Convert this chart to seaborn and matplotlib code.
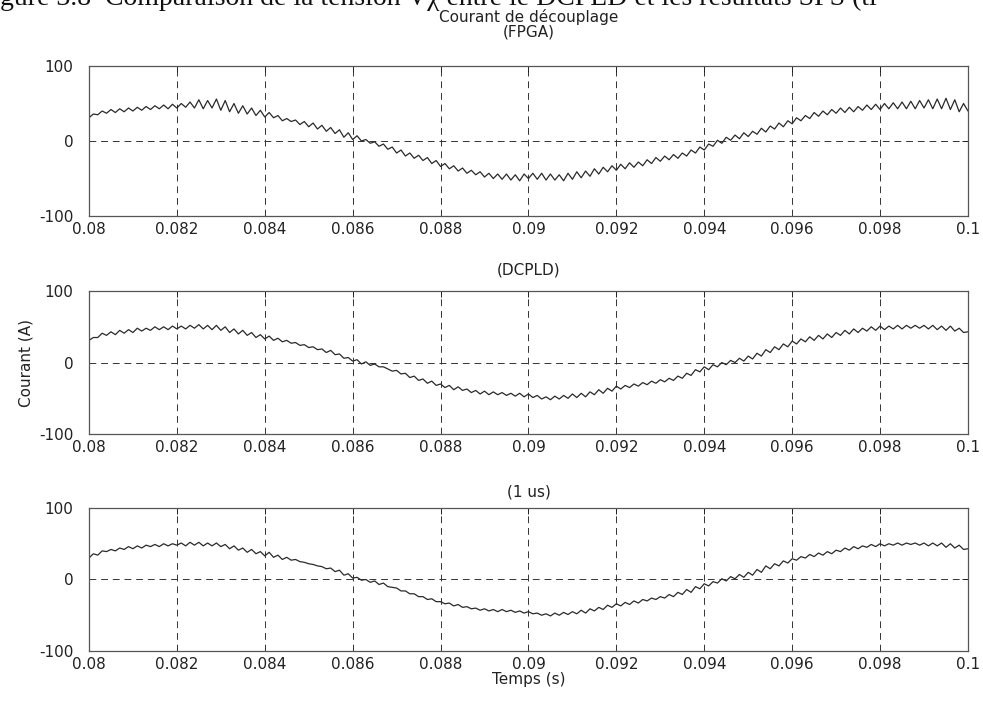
import numpy as np
import pandas as pd
import matplotlib
matplotlib.use("Agg")
import matplotlib.pyplot as plt
import seaborn as sns

# Time axis (s): one sample every 0.1 ms from 0.08 s to 0.1 s
t_start = 0.08
t_step = 0.0001

# Decoupling current (A) for the three implementations
courant_fpga = [
    31, 36, 35, 40, 37, 42, 38, 43, 39, 44, 40, 45, 41, 46, 42, 47, 43, 48, 43, 49,
    44, 50, 45, 52, 44, 55, 43, 54, 44, 56, 41, 54, 39, 50, 37, 47, 36, 44, 34, 41,
    32, 38, 31, 34, 27, 30, 26, 28, 22, 26, 19, 24, 16, 21, 13, 18, 10, 15, 5, 11,
    2, 7, 0, 2, -3, -1, -7, -4, -11, -8, -16, -12, -20, -16, -23, -19, -26, -22, -30, -26,
    -34, -30, -37, -33, -40, -36, -43, -39, -45, -41, -48, -43, -50, -44, -51, -44, -52, -45, -53, -44,
    -50, -43, -51, -43, -52, -44, -52, -45, -53, -43, -51, -41, -49, -40, -47, -37, -44, -35, -41, -33,
    -39, -31, -37, -29, -35, -28, -33, -25, -30, -22, -27, -20, -25, -18, -23, -16, -20, -12, -16, -8,
    -12, -4, -7, 1, -3, 5, 1, 8, 3, 11, 6, 13, 9, 17, 12, 20, 16, 24, 19, 27,
    23, 31, 27, 34, 30, 38, 33, 40, 35, 42, 37, 44, 38, 45, 39, 46, 41, 48, 42, 49,
    42, 50, 43, 51, 43, 52, 43, 53, 43, 54, 44, 55, 43, 56, 43, 57, 42, 55, 39, 50,
    40,
]

courant_dcpld = [
    31, 35, 35, 41, 38, 43, 39, 45, 41, 46, 42, 48, 44, 48, 45, 50, 46, 50, 46, 51,
    47, 51, 47, 52, 48, 53, 47, 52, 46, 52, 45, 50, 42, 47, 40, 45, 38, 42, 35, 39,
    33, 37, 31, 34, 29, 31, 27, 28, 24, 25, 21, 22, 18, 19, 14, 17, 11, 12, 6, 7,
    2, 4, -2, 1, -4, -2, -6, -6, -9, -12, -11, -16, -15, -21, -19, -25, -23, -29, -26, -32,
    -30, -35, -32, -38, -34, -39, -37, -42, -39, -44, -40, -45, -41, -45, -42, -46, -43, -47, -43, -48,
    -44, -49, -46, -51, -48, -52, -47, -51, -46, -50, -44, -49, -43, -48, -41, -45, -38, -43, -36, -40,
    -33, -37, -32, -35, -30, -33, -28, -31, -26, -29, -24, -27, -22, -25, -19, -22, -15, -18, -10, -13,
    -6, -10, -3, -6, 0, -3, 3, 0, 6, 2, 9, 5, 13, 9, 18, 14, 22, 18, 26, 22,
    30, 26, 33, 29, 36, 31, 38, 33, 40, 35, 42, 38, 45, 40, 47, 42, 48, 44, 50, 45,
    51, 46, 51, 47, 52, 47, 52, 48, 52, 48, 52, 47, 52, 46, 51, 45, 51, 44, 48, 42,
    43,
]

courant_1us = [
    30, 36, 34, 40, 39, 42, 40, 44, 42, 46, 43, 47, 44, 48, 46, 49, 46, 50, 47, 50,
    48, 51, 47, 52, 48, 52, 47, 51, 47, 51, 46, 49, 43, 47, 41, 44, 38, 42, 36, 39,
    33, 38, 31, 34, 28, 31, 27, 28, 25, 24, 22, 21, 19, 18, 15, 16, 11, 13, 6, 8,
    2, 3, -1, 0, -4, -2, -7, -5, -10, -11, -12, -16, -16, -20, -20, -24, -24, -28, -27, -31,
    -31, -34, -33, -37, -35, -39, -38, -41, -40, -43, -41, -44, -42, -45, -42, -45, -43, -46, -44, -47,
    -45, -48, -47, -50, -48, -51, -47, -50, -46, -49, -45, -48, -43, -47, -41, -44, -39, -42, -36, -39,
    -34, -37, -32, -35, -30, -33, -28, -30, -26, -28, -24, -26, -21, -24, -18, -21, -14, -18, -10, -13,
    -6, -9, -3, -5, 1, -2, 4, 1, 7, 3, 10, 6, 14, 10, 19, 15, 22, 19, 26, 23,
    29, 27, 32, 30, 35, 32, 37, 34, 39, 36, 41, 39, 44, 41, 46, 43, 47, 45, 49, 46,
    50, 47, 50, 48, 51, 48, 51, 49, 51, 48, 51, 47, 51, 47, 51, 45, 50, 44, 48, 42,
    43,
]

panel_titles = ["Courant de découplage\n(FPGA)", "(DCPLD)", "(1 us)"]
x_ticks = [0.08, 0.082, 0.084, 0.086, 0.088, 0.09, 0.092, 0.094, 0.096, 0.098, 0.1]
x_tick_labels = ["0.08", "0.082", "0.084", "0.086", "0.088", "0.09",
                 "0.092", "0.094", "0.096", "0.098", "0.1"]
y_ticks = [-100, 0, 100]
y_tick_labels = ["-100", "0", "100"]

sns.set_style("white")
plt.rcParams["font.family"] = ["DejaVu Sans"]
plt.rcParams["font.size"] = 11

n = len(courant_fpga)
temps = np.round(t_start + t_step * np.arange(n), 5)
frames = [pd.DataFrame({"Temps": temps, "Courant": np.asarray(s, dtype=float)})
          for s in (courant_fpga, courant_dcpld, courant_1us)]

fig = plt.figure(figsize=(9.83, 7.03), dpi=100)
left, width = 0.0905, 0.8942
boxes = [(left, 0.6927, width, 0.2134),
         (left, 0.3826, width, 0.2034),
         (left, 0.0740, width, 0.2034)]
title_pads = [21, 12, 8]

for i, (df, box, title) in enumerate(zip(frames, boxes, panel_titles)):
    ax = fig.add_axes(box)
    sns.lineplot(data=df, x="Temps", y="Courant", ax=ax, color="#2a2a2a",
                 linewidth=0.9, estimator=None)
    ax.set_xlim(0.08, 0.1)
    ax.set_ylim(-100, 100)
    ax.set_xticks(x_ticks)
    ax.set_xticklabels(x_tick_labels)
    ax.set_yticks(y_ticks)
    ax.set_yticklabels(y_tick_labels)
    ax.grid(True, color="#333333", linestyle=(0, (7, 5)), linewidth=0.7)
    ax.tick_params(direction="in", length=4, width=0.7, labelsize=11,
                   colors="#222222", top=True, right=True)
    ax.tick_params(axis="y", pad=11)
    ax.tick_params(axis="x", pad=4)
    for sp in ax.spines.values():
        sp.set_visible(True)
        sp.set_color("#555555")
        sp.set_linewidth(0.9)
    ax.set_title(title, fontsize=11, color="#222222", pad=title_pads[i],
                 linespacing=1.0)
    ax.set_xlabel("")
    ax.set_ylabel("")
    if i == 1:
        ax.set_ylabel("Courant (A)", fontsize=11, color="#222222", labelpad=4)
    if i == 2:
        ax.set_xlabel("Temps (s)", fontsize=11, color="#222222", labelpad=0)

# Running page caption above the figure, cut by the top edge
fig.text(0.0, 1.0 - 5.0 / 703,
         "gure 3.8  Comparaison de la tension V\u03c7 entre le DCPLD et les résultats SPS (ti",
         fontsize=20, family=["Liberation Serif", "DejaVu Serif"], color="#111111",
         va="baseline", ha="left")

fig.savefig("out.png", dpi=100, facecolor="white")
